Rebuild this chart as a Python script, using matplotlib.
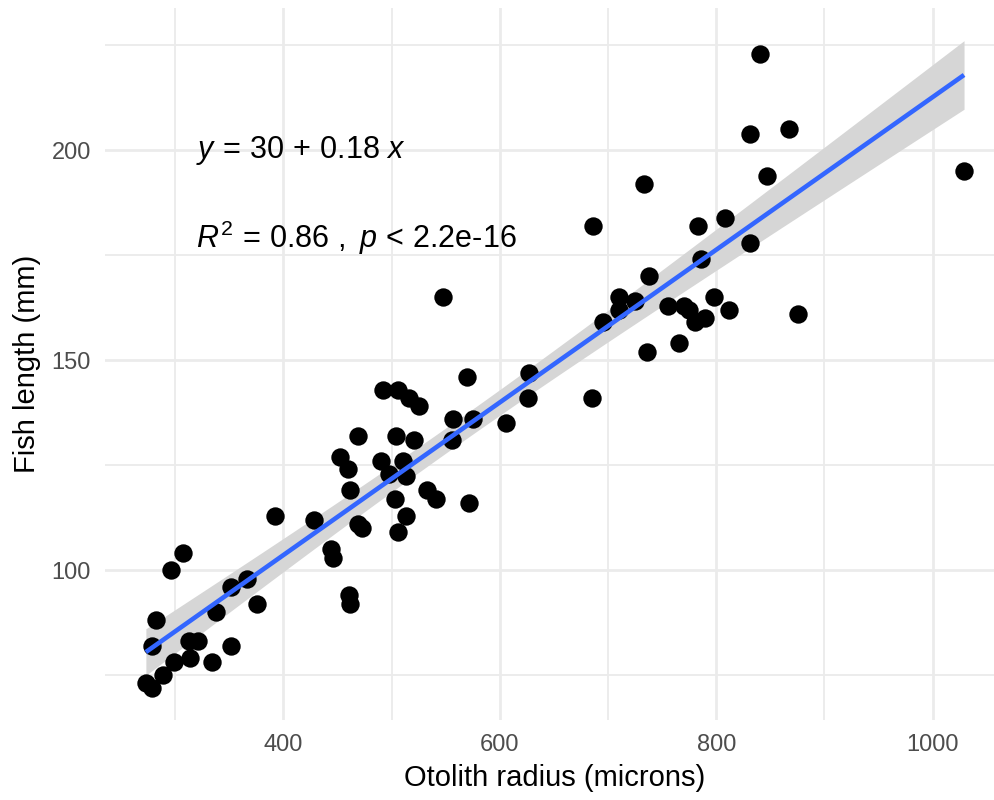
import numpy as np
import matplotlib
matplotlib.use("Agg")
import matplotlib.pyplot as plt
from matplotlib.ticker import FixedLocator

# Otolith radius (microns) and fish length (mm)
radius = [392, 428, 469, 473, 503, 513, 506, 541, 307, 296,
          444, 446, 282, 352, 366, 338, 376, 461, 462, 279,
          313, 321, 352, 299, 314, 334, 289, 273, 279, 570,
          492, 506, 516, 525, 627, 626, 685, 557, 575, 556,
          606, 469, 504, 521, 452, 460, 490, 511, 498, 513,
          462, 533, 572, 847, 733, 686, 783, 808, 831, 786,
          738, 710, 710, 725, 695, 755, 770, 775, 780, 790,
          798, 812, 876, 736, 766, 840, 831, 867, 1029, 548]
length = [113, 112, 111, 110, 117, 113, 109, 117, 104, 100,
          105, 103, 88, 96, 98, 90, 92, 94, 92, 82,
          83, 83, 82, 78, 79, 78, 75, 73, 72, 146,
          143, 143, 141, 139, 147, 141, 141, 136, 136, 131,
          135, 132, 132, 131, 127, 124, 126, 126, 123, 122.5,
          119, 119, 116, 194, 192, 182, 182, 184, 178, 174,
          170, 165, 162, 164, 159, 163, 163, 162, 159, 160,
          165, 162, 161, 152, 154, 223, 204, 205, 195, 165]

eq_label = r"$\it{y}\,=\,30\,+\,0.18\ \it{x}$"
r2_label = r"$\it{R}^2\,=\,0.86\ ,\ \it{p}\,<\,$2.2e-16"

x = np.array(radius, dtype=float)
y = np.array(length, dtype=float)

# linear fit + 95% confidence band (like geom_smooth(method = "lm"))
slope, intercept = np.polyfit(x, y, 1)
n = len(x)
resid = y - (intercept + slope * x)
s = np.sqrt(np.sum(resid ** 2) / (n - 2))
t_crit = 1.9908  # t(0.975, df = 78)
xs = np.linspace(x.min(), x.max(), 200)
ys = intercept + slope * xs
se = s * np.sqrt(1 / n + (xs - x.mean()) ** 2 / np.sum((x - x.mean()) ** 2))
lo, hi = ys - t_crit * se, ys + t_crit * se

plt.rcParams['font.family'] = ['Liberation Sans', 'DejaVu Sans']
plt.rcParams['mathtext.fontset'] = 'custom'
plt.rcParams['mathtext.rm'] = 'Liberation Sans'
plt.rcParams['mathtext.it'] = 'Liberation Sans:italic'

fig = plt.figure(figsize=(9.95, 8), dpi=100)
ax = fig.add_axes([0.1055, 0.1, 0.9045, 0.8896])

ax.fill_between(xs, lo, hi, color="#D6D6D6", lw=0, zorder=2)
ax.scatter(x, y, s=175, color="black", lw=0, zorder=3)
ax.plot(xs, ys, color="#3366FF", lw=3.3, zorder=5, solid_capstyle="butt")

# ggplot-like expansion of 5% on each side
xr = x.max() - x.min()
ymin, ymax = min(y.min(), lo.min()), max(y.max(), hi.max())
yr = ymax - ymin
ax.set_xlim(x.min() - 0.05 * xr, x.max() + 0.05 * xr)
ax.set_ylim(ymin - 0.05 * yr, ymax + 0.05 * yr)

ax.xaxis.set_major_locator(FixedLocator([400, 600, 800, 1000]))
ax.xaxis.set_minor_locator(FixedLocator([300, 500, 700, 900]))
ax.yaxis.set_major_locator(FixedLocator([100, 150, 200]))
ax.yaxis.set_minor_locator(FixedLocator([75, 125, 175, 225]))
ax.grid(which="major", color="#EBEBEB", lw=2.0, zorder=0)
ax.grid(which="minor", color="#EBEBEB", lw=1.3, zorder=0)
ax.set_axisbelow(True)
for sp in ax.spines.values():
    sp.set_visible(False)
ax.tick_params(which="both", length=0, labelsize=17, labelcolor="#4D4D4D", pad=10)

ax.set_xlabel("Otolith radius (microns)", fontsize=21, labelpad=6)
ax.set_ylabel("Fish length (mm)", fontsize=21, labelpad=8)

# regression annotation
ax.text(319, 200, eq_label, fontsize=22, va="center", ha="left", zorder=6)
ax.text(319, 179.2, r2_label, fontsize=22, va="center", ha="left", zorder=6)

fig.savefig("out.png", dpi=100)
